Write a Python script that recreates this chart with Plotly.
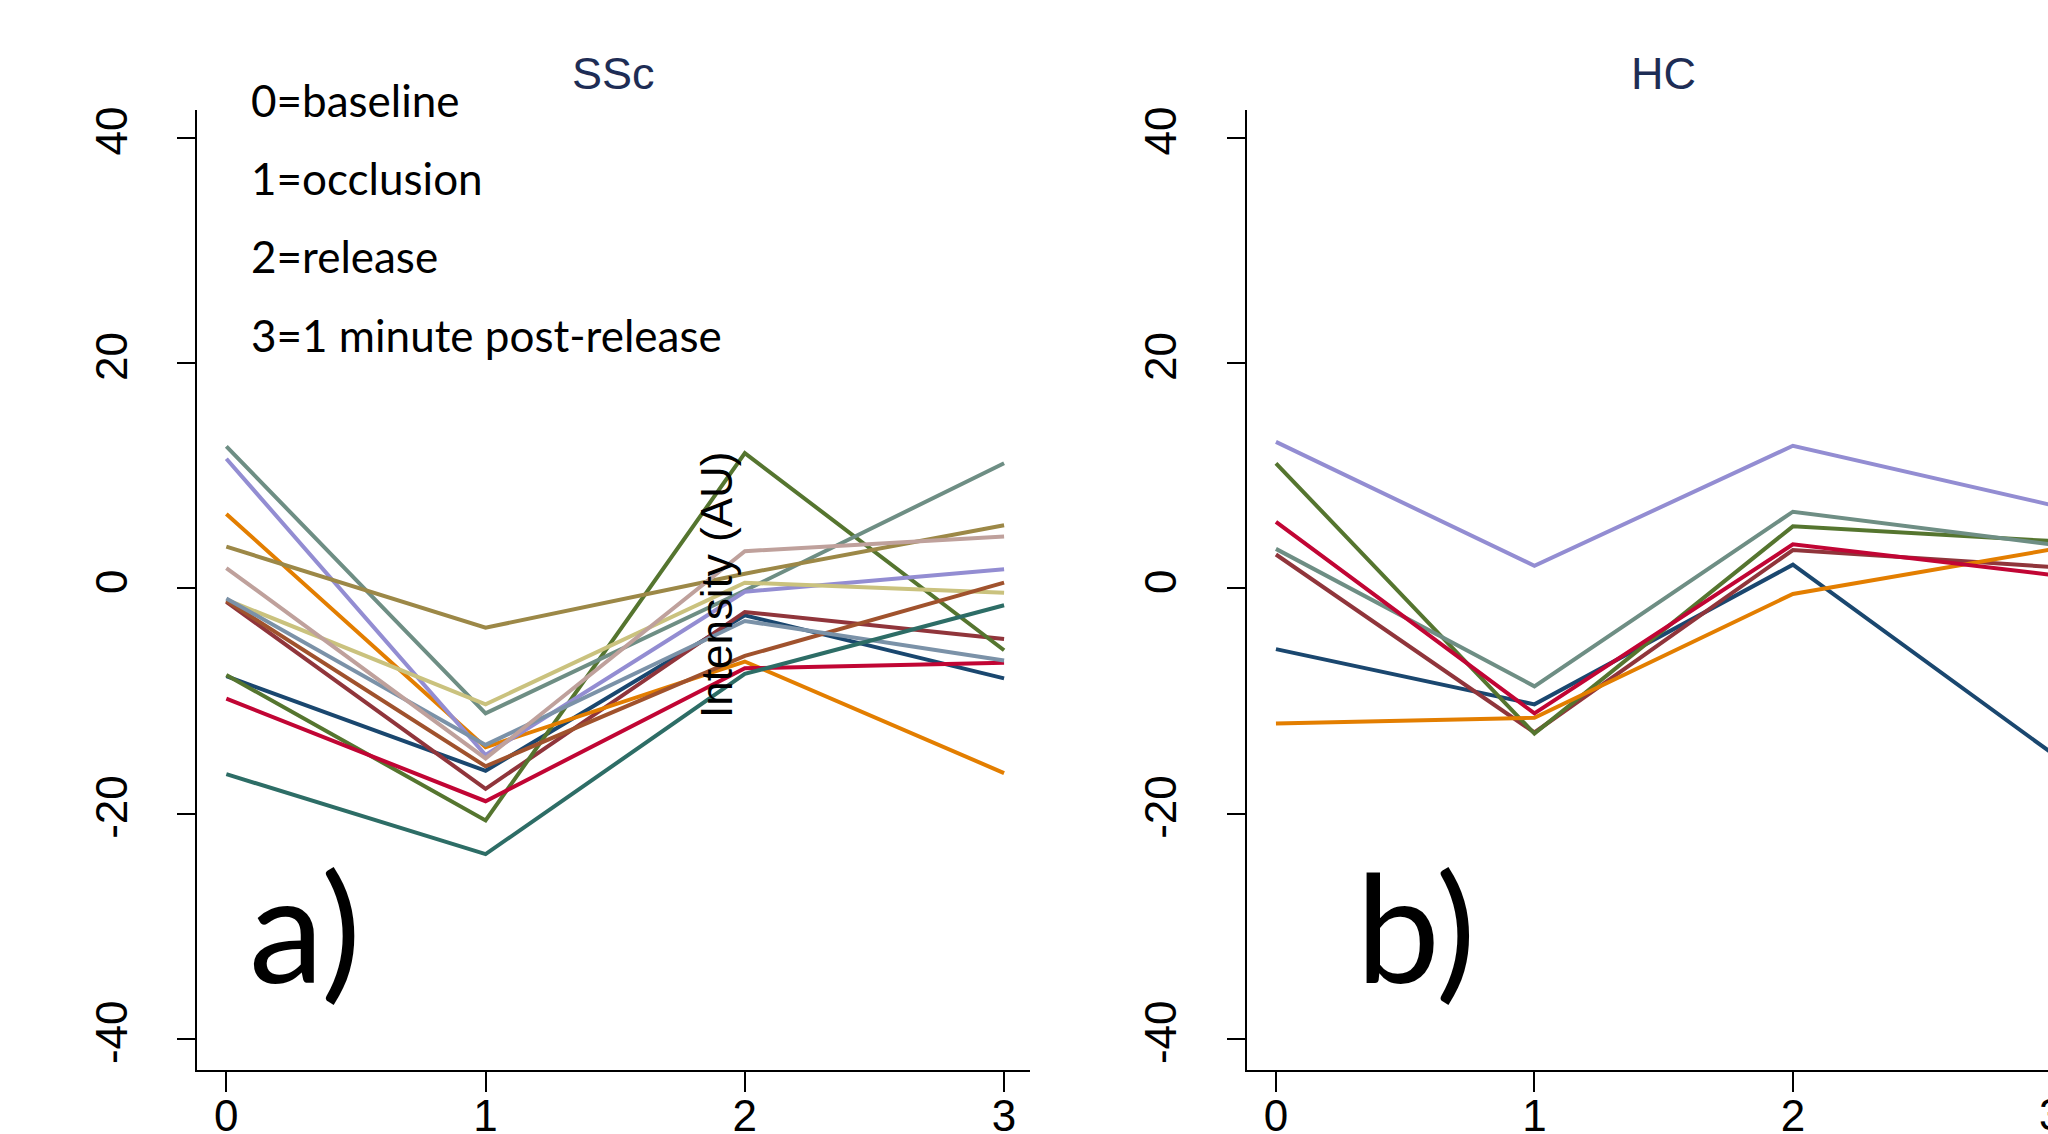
import plotly.graph_objects as go

# ---------------- data ----------------
time_points = [0, 1, 2, 3]
x_tick_labels = ["0", "1", "2", "3"]
y_tick_vals = [-40, -20, 0, 20, 40]
y_tick_labels = ["-40", "-20", "0", "20", "40"]

# SSc subjects (panel a)
ssc_navy = [-7.8, -16.2, -2.4, -8.0]
ssc_maroon = [-1.2, -17.8, -2.1, -4.5]
ssc_forest = [-7.7, -20.6, 12.0, -5.5]
ssc_dkorange = [6.6, -14.1, -6.5, -16.4]
ssc_teal = [12.6, -11.1, -0.2, 11.1]
ssc_cranberry = [-9.8, -18.9, -7.1, -6.6]
ssc_lavender = [11.5, -14.8, -0.3, 1.7]
ssc_khaki = [-1.0, -10.3, 0.5, -0.4]
ssc_sienna = [-1.1, -15.8, -6.0, 0.5]
ssc_emidblue = [-0.9, -13.9, -2.9, -6.4]
ssc_emerald = [-16.5, -23.6, -7.6, -1.5]
ssc_brown = [3.7, -3.5, 1.3, 5.6]
ssc_erose = [1.8, -15.1, 3.3, 4.6]

# HC subjects (panel b)
hc_navy = [-5.4, -10.3, 2.1, -14.6]
hc_maroon = [3.0, -12.8, 3.4, 1.9]
hc_forest = [11.1, -12.9, 5.5, 4.2]
hc_dkorange = [-12.0, -11.5, -0.5, 3.45]
hc_teal = [3.5, -8.7, 6.8, 3.9]
hc_cranberry = [5.9, -11.1, 3.9, 1.2]
hc_lavender = [13.0, 2.0, 12.65, 7.4]

legend_lines = ["0=baseline", "1=occlusion", "2=release", "3=1 minute post-release"]
panel_titles = ["SSc", "HC"]
panel_letters = ["a)", "b)"]
y_title = "Intensity (AU)"

# ---------------- styling ----------------
C = {
    "navy": "#1a476f", "maroon": "#90353b", "forest": "#55752f",
    "dkorange": "#e37e00", "teal": "#6e8e84", "cranberry": "#c10534",
    "lavender": "#938dd2", "khaki": "#cac27e", "sienna": "#a0522d",
    "emidblue": "#7b92a8", "emerald": "#2d6d66", "brown": "#9c8847",
    "erose": "#bfa19c",
}
ssc_series = [
    ("navy", ssc_navy), ("maroon", ssc_maroon), ("forest", ssc_forest),
    ("dkorange", ssc_dkorange), ("teal", ssc_teal), ("cranberry", ssc_cranberry),
    ("lavender", ssc_lavender), ("khaki", ssc_khaki), ("sienna", ssc_sienna),
    ("emidblue", ssc_emidblue), ("emerald", ssc_emerald), ("brown", ssc_brown),
    ("erose", ssc_erose),
]
hc_series = [
    ("navy", hc_navy), ("maroon", hc_maroon), ("forest", hc_forest),
    ("dkorange", hc_dkorange), ("teal", hc_teal), ("cranberry", hc_cranberry),
    ("lavender", hc_lavender),
]

W, H = 2048, 1134
AX_FONT = "Liberation Sans, Arial, sans-serif"
TXT_FONT = "Lato, Carlito, Calibri, sans-serif"
LW = 4.0

fig = go.Figure()
for name, ys in ssc_series:
    fig.add_trace(go.Scatter(x=time_points, y=ys, mode="lines",
                             line=dict(color=C[name], width=LW),
                             xaxis="x", yaxis="y", showlegend=False))
for name, ys in hc_series:
    fig.add_trace(go.Scatter(x=time_points, y=ys, mode="lines",
                             line=dict(color=C[name], width=LW),
                             xaxis="x2", yaxis="y2", showlegend=False))

# plot-area geometry (pixels)
ax_left = [197.3, 1247.0]
ax_right = [1030.0, 2048.0]
ax_top, ax_bottom = 110.0, 1070.0
x_ranges = [[-0.112, 3.1], [-0.112, 2.987]]
y_range = [-42.76, 42.46]

common_x = dict(tickvals=time_points, ticktext=x_tick_labels, ticks="outside",
                ticklen=20, tickwidth=2, tickcolor="black", showline=True,
                linewidth=2, linecolor="black", showgrid=False, zeroline=False,
                tickfont=dict(family=AX_FONT, size=44, color="black"),
                ticklabelstandoff=-14, fixedrange=True, automargin=False)
common_y = dict(tickvals=y_tick_vals, ticktext=y_tick_labels, ticks="outside",
                ticklen=18, tickwidth=2, tickcolor="black", showline=True,
                linewidth=2, linecolor="black", showgrid=False, zeroline=False,
                tickangle=-90, range=y_range,
                tickfont=dict(family=AX_FONT, size=44, color="black"),
                ticklabelstandoff=33, fixedrange=True, automargin=False)

ydom = [1 - ax_bottom / H, 1 - ax_top / H]
fig.update_layout(
    template="none",
    width=W, height=H, margin=dict(l=0, r=0, t=0, b=0, autoexpand=False),
    paper_bgcolor="white", plot_bgcolor="white", showlegend=False,
    xaxis=dict(domain=[ax_left[0] / W, ax_right[0] / W], range=x_ranges[0],
               anchor="y", **common_x),
    xaxis2=dict(domain=[ax_left[1] / W, ax_right[1] / W], range=x_ranges[1],
                anchor="y2", **common_x),
    yaxis=dict(domain=ydom, anchor="x", **common_y),
    yaxis2=dict(domain=ydom, anchor="x2", **common_y),
)

ann = []
# panel titles
full_right_b = ax_left[1] + (ax_right[0] - ax_left[0])
title_cx = [(ax_left[0] + ax_right[0]) / 2, (ax_left[1] + full_right_b) / 2]
for t, cx in zip(panel_titles, title_cx):
    ann.append(dict(text=t, xref="paper", yref="paper", x=cx / W, y=1 - 74 / H,
                    xanchor="center", yanchor="middle", showarrow=False,
                    font=dict(family=AX_FONT, size=45, color="#1e2d55")))
# explanatory text
baselines = [116.7, 195.0, 273.0, 351.7]
for t, b in zip(legend_lines, baselines):
    ann.append(dict(text=t, xref="paper", yref="paper", x=249 / W,
                    y=1 - (b - 17) / H, xanchor="left", yanchor="middle",
                    showarrow=False,
                    font=dict(family=TXT_FONT, size=44, color="black")))
# panel letters
for t, lx in zip(panel_letters, [247, 1354]):
    ann.append(dict(text=t, xref="paper", yref="paper", x=lx / W,
                    y=1 - (983 - 58) / H, xanchor="left", yanchor="middle",
                    showarrow=False,
                    font=dict(family=TXT_FONT, size=150, color="black")))
# y-axis title (placed as in original)
ann.append(dict(text=y_title, xref="paper", yref="paper", x=716 / W,
                y=1 - 585 / H, xanchor="center", yanchor="middle",
                textangle=-90, showarrow=False,
                font=dict(family=AX_FONT, size=44, color="black")))
# cropped "3" tick label of panel b (beyond the visible range)
dom_b = [ax_left[1] / W, ax_right[1] / W]
frac3 = (time_points[3] - x_ranges[1][0]) / (x_ranges[1][1] - x_ranges[1][0])
ann.append(dict(text=x_tick_labels[3], xref="paper", yref="paper",
                x=dom_b[0] + frac3 * (dom_b[1] - dom_b[0]),
                y=1 - 1088 / H, xanchor="center", yanchor="top",
                showarrow=False,
                font=dict(family=AX_FONT, size=44, color="black")))
fig.update_layout(annotations=ann)

fig.write_html("out.html",
               config={"displayModeBar": False},
               post_script="document.body.style.margin='0';document.body.style.overflow='hidden';")
